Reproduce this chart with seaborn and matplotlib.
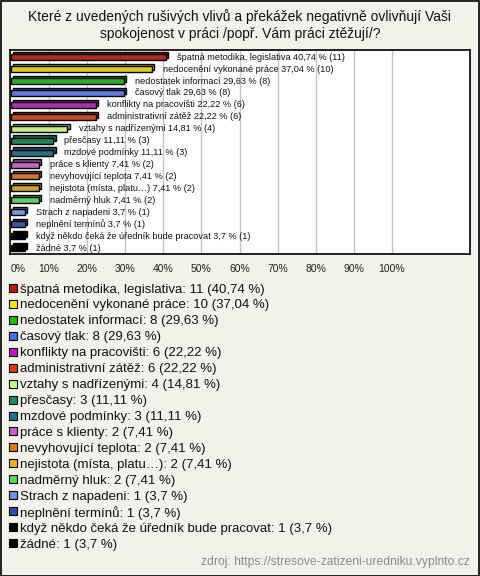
import numpy as np
import pandas as pd
import matplotlib
matplotlib.use("Agg")
import matplotlib.pyplot as plt
import matplotlib.patheffects as pe
from matplotlib.patches import Rectangle
from matplotlib.colors import to_rgb
import seaborn as sns

categories = [
    "špatná metodika, legislativa",
    "nedocenění vykonané práce",
    "nedostatek informací",
    "časový tlak",
    "konflikty na pracovišti",
    "administrativní zátěž",
    "vztahy s nadřízenými",
    "přesčasy",
    "mzdové podmínky",
    "práce s klienty",
    "nevyhovující teplota",
    "nejistota (místa, platu...)",
    "nadměrný hluk",
    "Strach z napadeni",
    "neplnění termínů",
    "když někdo čeká že úředník bude pracovat",
    "žádné",
]
counts = [11, 10, 8, 8, 6, 6, 4, 3, 3, 2, 2, 2, 2, 1, 1, 1, 1]
percents = [40.74, 37.04, 29.63, 29.63, 22.22, 22.22, 14.81, 11.11, 11.11,
            7.41, 7.41, 7.41, 7.41, 3.7, 3.7, 3.7, 3.7]
colors = ["#c4170c", "#ffe600", "#19c119", "#4b6ff0", "#c217c9", "#e33c0a",
          "#c6fc7a", "#1a9058", "#1a7a8f", "#c860c8", "#e87810", "#e8b010",
          "#50e050", "#6a96e0", "#2a50b0", "#000000", "#000000"]
tick_values = [0, 10, 20, 30, 40, 50, 60, 70, 80, 90, 100]
tick_labels = [f"{v}%" for v in tick_values]
title = "Které z uvedených rušivých vlivů a překážek negativně ovlivňují Vaši\nspokojenost v práci /popř. Vám práci ztěžují/?"
source = "zdroj: https://stresove-zatizeni-uredniku.vyplnto.cz"

def fmt(p):
    s = f"{p:.2f}".rstrip("0").rstrip(".")
    return s.replace(".", ",")

sns.set_theme(style="white")
plt.rcParams["font.family"] = ["Liberation Sans", "DejaVu Sans"]

BG = "#f3f2ea"
W, H = 480, 576
fig = plt.figure(figsize=(W / 100, H / 100), dpi=100, facecolor=BG)

ax_l, ax_r, ax_t, ax_b = 10, 470, 50, 254
ax = fig.add_axes([ax_l / W, 1 - ax_b / H, (ax_r - ax_l) / W, (ax_b - ax_t) / H])
ax.set_facecolor("white")

df = pd.DataFrame({"cat": categories, "pct": percents})
sns.barplot(data=df, x="pct", y="cat", hue="cat", palette=colors, legend=False,
            orient="h", width=0.5, edgecolor="black", linewidth=1, ax=ax, zorder=3)

def darker(c, f=0.7):
    r, g, b = to_rgb(c)
    return (r * f, g * f, b * f)

for patch, c in zip(ax.patches, colors):
    patch.set_path_effects([
        pe.PathPatchEffect(offset=(1.6, 1.6), facecolor=darker(c), edgecolor="black", linewidth=1),
        pe.Normal(),
    ])

for i, (cat, p, n) in enumerate(zip(categories, percents, counts)):
    label = cat.replace("...", "…")
    ax.annotate(f"{label} {fmt(p)} % ({n})", xy=(p, i), xytext=(8, 0),
                textcoords="offset points", va="center", ha="left",
                fontsize=6.6, color="#111111", zorder=4)

ax.set_xlim(-0.26, 120.5)
ax.set_ylim(16.5, -0.6)
ax.set_xticks(tick_values)
ax.set_xticklabels(tick_labels, fontsize=7.5, color="#222222")
ax.get_xticklabels()[0].set_horizontalalignment("left")
ax.tick_params(axis="x", length=0, pad=7.5)
ax.set_yticks([])
ax.set_xlabel("")
ax.set_ylabel("")
ax.grid(False)
for v in tick_values[1:]:
    ax.axvline(v, color="#c4c4c4", lw=1, zorder=1)
for s in ax.spines.values():
    s.set_color("black")
    s.set_linewidth(1.2)

fig.text(0.5, 1 - 25 / H, title, ha="center", va="center", fontsize=10,
         linespacing=1.2, color="#111111")

# legend rows
leg_top, leg_step = 288, 15.94
for i, (c, cat, n, p) in enumerate(zip(colors, categories, counts, percents)):
    yc = leg_top + i * leg_step
    fig.patches.append(Rectangle((9 / W, 1 - (yc + 4) / H), 8 / W, 8 / H,
                                 transform=fig.transFigure, facecolor=c,
                                 edgecolor="black", linewidth=0.8))
    fig.text(20 / W, 1 - yc / H, f"{cat.replace('...', '…')}: {n} ({fmt(p)} %)",
             ha="left", va="center_baseline", fontsize=9.5, color="#111111")

fig.text(470 / W, 1 - 562 / H, source, ha="right", va="center", fontsize=8.7, color="#8a8a8a")

fig.patches.append(Rectangle((0.5 / W, 0.5 / H), 1 - 1.5 / W, 1 - 1.5 / H, transform=fig.transFigure,
                             fill=False, edgecolor="black", linewidth=1.2))

fig.savefig("out.png", dpi=100, facecolor=BG)
